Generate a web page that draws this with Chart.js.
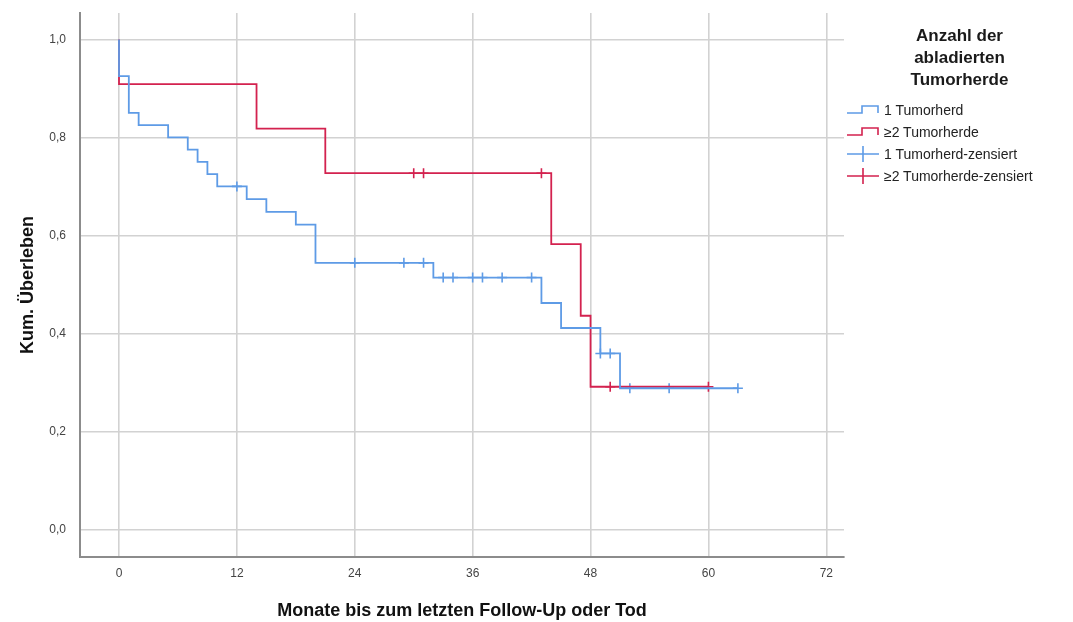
<!DOCTYPE html>
<html>
<head>
<meta charset="utf-8">
<script src="https://cdn.jsdelivr.net/npm/chart.js@4"></script>
<style>
    html, body { margin: 0; padding: 0; background: #fff; }
    #wrap { position: relative; width: 1073px; height: 622px; font-family: "Liberation Sans", Arial, sans-serif; }
    #legend { position: absolute; left: 846px; top: 25px; width: 227px; color: #1a1a1a; }
    #legend .title { width: 227px; text-align: center; font-weight: bold; font-size: 17px; line-height: 22px; }
    #legend .item { display: flex; align-items: center; height: 22px; font-size: 14px; color: #222; }
    #legend .item svg { margin-right: 4px; }
    #legend .items { margin-top: 8px; }
</style>
</head>
<body>
<div id="wrap">
    <canvas id="km" width="1073" height="622"></canvas>
    <div id="legend"></div>
</div>
<script>
// Kaplan-Meier: 1 Tumorherd (blue)
const blueTimes = [0, 0, 1, 2, 5, 7, 8, 9, 10, 13, 15, 18, 20, 32, 43, 45, 49, 51, 63];
const blueSurv = [1.0, 0.925, 0.85, 0.825, 0.80, 0.775, 0.75, 0.725, 0.70, 0.674, 0.648, 0.622, 0.544, 0.514, 0.462, 0.411, 0.359, 0.288, 0.288];
const blueCensTimes = [12, 24, 29, 31, 33, 34, 36, 37, 39, 42, 49, 50, 52, 56, 63];
const blueCensSurv = [0.70, 0.544, 0.544, 0.544, 0.514, 0.514, 0.514, 0.514, 0.514, 0.514, 0.359, 0.359, 0.288, 0.288, 0.288];

// Kaplan-Meier: >=2 Tumorherde (red)
const redTimes = [0, 0, 14, 21, 44, 47, 48, 60];
const redSurv = [1.0, 0.909, 0.818, 0.727, 0.582, 0.436, 0.291, 0.291];
const redCensTimes = [30, 31, 43, 50, 60];
const redCensSurv = [0.727, 0.727, 0.727, 0.291, 0.291];

const xTicks = [0, 12, 24, 36, 48, 60, 72];
const yTicks = [0, 0.2, 0.4, 0.6, 0.8, 1.0];

const seriesLabels = ['1 Tumorherd', '≥2 Tumorherde', '1 Tumorherd-zensiert', '≥2 Tumorherde-zensiert'];
const legendTitle = ['Anzahl der', 'abladierten', 'Tumorherde'];

const BLUE = '#5e9be6';
const RED = '#d3224f';

const toPoints = (xs, ys) => xs.map((x, i) => ({ x: x, y: ys[i] }));

const tickFont = { family: '"Liberation Sans", Arial, sans-serif', size: 12 };
const titleFont = { family: '"Liberation Sans", Arial, sans-serif', size: 18, weight: 'bold' };

// survival stays flat until the next event, then drops
new Chart(document.getElementById('km').getContext('2d'), {
    type: 'line',
    data: {
        datasets: [
            { label: seriesLabels[0], data: toPoints(blueTimes, blueSurv), stepped: 'before', borderColor: BLUE, borderWidth: 1.8, pointRadius: 0, fill: false },
            { label: seriesLabels[1], data: toPoints(redTimes, redSurv), stepped: 'before', borderColor: RED, borderWidth: 1.8, pointRadius: 0, fill: false },
            { label: seriesLabels[2], data: toPoints(blueCensTimes, blueCensSurv), showLine: false, pointStyle: 'cross', pointRadius: 5, borderColor: BLUE, borderWidth: 1.6 },
            { label: seriesLabels[3], data: toPoints(redCensTimes, redCensSurv), showLine: false, pointStyle: 'cross', pointRadius: 5, borderColor: RED, borderWidth: 1.6 }
        ]
    },
    options: {
        responsive: false,
        animation: false,
        layout: { padding: { left: 0, right: 229, top: 13, bottom: 0 } },
        plugins: { legend: { display: false }, tooltip: { enabled: false } },
        scales: {
            x: {
                type: 'linear',
                min: -3.97,
                max: 73.8,
                afterBuildTicks: axis => { axis.ticks = xTicks.map(v => ({ value: v })); },
                afterFit: axis => { axis.height = 65; axis.paddingLeft = 0; axis.paddingRight = 0; },
                grid: { color: '#d2d2d2', lineWidth: 1.6, drawTicks: false },
                border: { color: '#8c8c8c', width: 2 },
                ticks: { color: '#444', font: tickFont, padding: 9, maxRotation: 0 },
                title: { display: true, text: 'Monate bis zum letzten Follow-Up oder Tod', color: '#111', font: titleFont, padding: { top: 15, bottom: 0 } }
            },
            y: {
                type: 'linear',
                min: -0.0565,
                max: 1.054,
                afterBuildTicks: axis => { axis.ticks = yTicks.map(v => ({ value: v })); },
                afterFit: axis => { axis.width = 80; axis.paddingTop = 0; axis.paddingBottom = 0; },
                grid: { color: '#d2d2d2', lineWidth: 1.6, drawTicks: false },
                border: { color: '#8c8c8c', width: 2 },
                ticks: {
                    color: '#444', font: tickFont, padding: 14,
                    callback: v => v.toFixed(1).replace('.', ',')
                },
                title: { display: true, text: 'Kum. Überleben', color: '#111', font: titleFont, padding: { top: 17, bottom: 0 } }
            }
        }
    }
});

// Legend (HTML)
function stepIcon(color) {
    return `<svg width="34" height="14"><path d="M1 10 H16 V3 H32 V10" fill="none" stroke="${color}" stroke-width="1.6"/></svg>`;
}
function crossIcon(color) {
    return `<svg width="34" height="18"><path d="M1 9 H33 M17 1 V17" fill="none" stroke="${color}" stroke-width="1.6"/></svg>`;
}
const icons = [stepIcon(BLUE), stepIcon(RED), crossIcon(BLUE), crossIcon(RED)];
const legendEl = document.getElementById('legend');
legendEl.innerHTML =
    legendTitle.map(t => `<div class="title">${t}</div>`).join('') +
    '<div class="items">' +
    seriesLabels.map((l, i) => `<div class="item">${icons[i]}<span>${l}</span></div>`).join('') +
    '</div>';
</script>
</body>
</html>
